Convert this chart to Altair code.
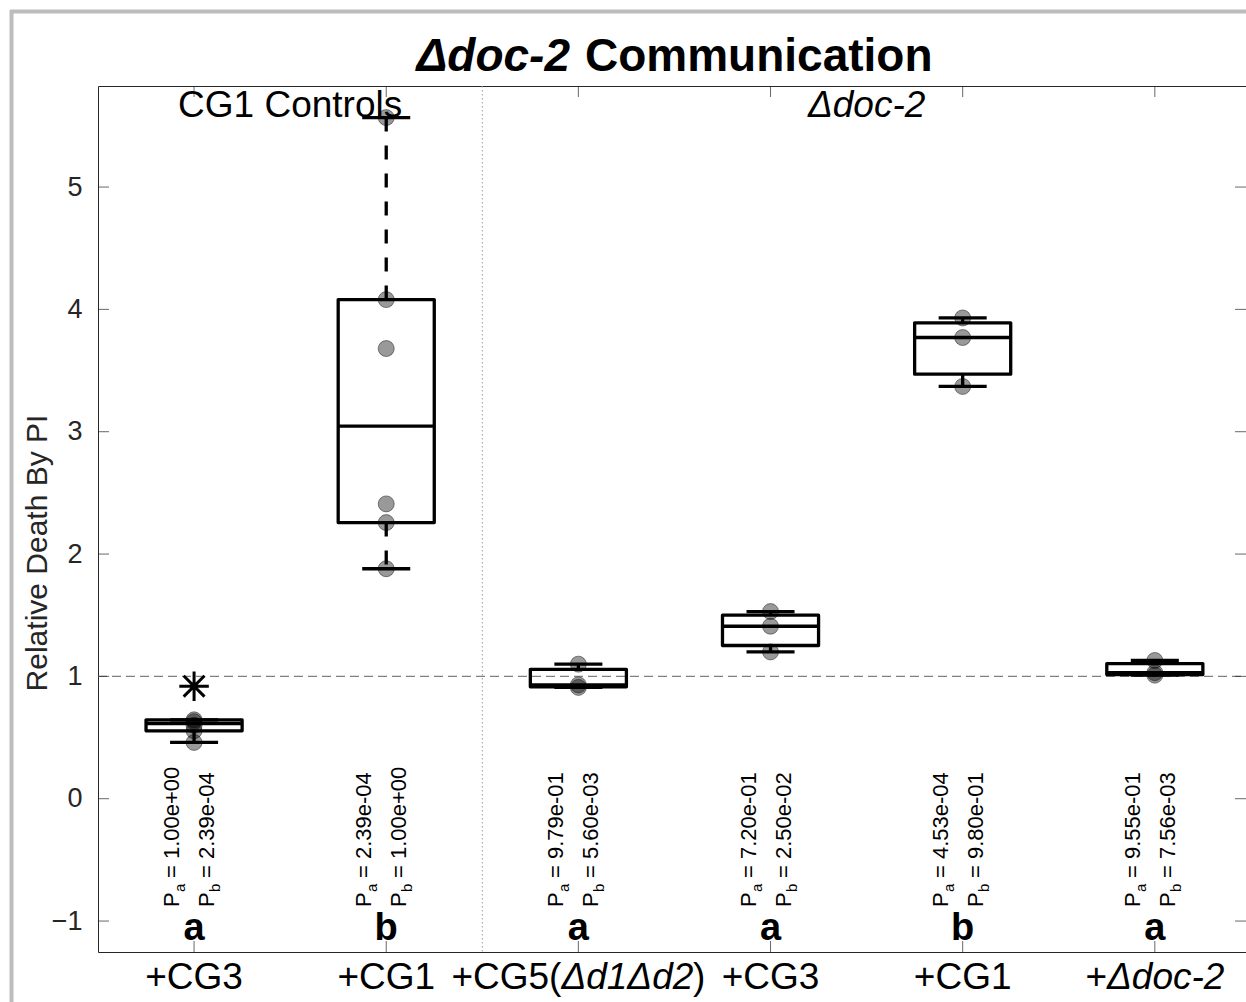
import altair as alt
import pandas as pd
import numpy as np

# ---------------- data ----------------
groups = [1, 2, 3, 4, 5, 6]
values_g1 = [0.46, 0.555, 0.60, 0.63, 0.645, 0.92]
values_g2 = [1.88, 2.257, 2.41, 3.68, 4.08, 5.568]
values_g3 = [0.91, 0.93, 1.10]
values_g4 = [1.20, 1.41, 1.53]
values_g5 = [3.37, 3.77, 3.93]
values_g6 = [1.01, 1.03, 1.13]
group_values = [values_g1, values_g2, values_g3, values_g4, values_g5, values_g6]

p_a = ["1.00e+00", "2.39e-04", "9.79e-01", "7.20e-01", "4.53e-04", "9.55e-01"]
p_b = ["2.39e-04", "1.00e+00", "5.60e-03", "2.50e-02", "9.80e-01", "7.56e-03"]
letters = ["a", "b", "a", "a", "b", "a"]

x_label_parts = [
    [("+CG3", False)],
    [("+CG1", False)],
    [("+CG5(", False), ("Δd1Δd2", True), (")", False)],
    [("+CG3", False)],
    [("+CG1", False)],
    [("+", False), ("Δdoc-2", True)],
]

region_names = ["CG1 Controls", "Δdoc-2"]
region_centers = [1.5, 4.5]
region_italic = [False, True]
divider_at = [2.5]
reference_at = [1.0]
y_ticks = [-1, 0, 1, 2, 3, 4, 5]
title_parts = ["Δdoc-2", "Communication"]
y_title = "Relative Death By PI"

# ---------------- layout ----------------
W, H = 1148, 866
X_MIN, X_MAX = 0.5, 6.4745
Y_MIN, Y_MAX = -1.253, 5.826
PXU = W / (X_MAX - X_MIN)
FONT = "Liberation Sans"


def prctile(sx, p):
    n = len(sx)
    pos = p / 100.0 * n + 0.5
    if pos <= 1:
        return sx[0]
    if pos >= n:
        return sx[-1]
    i = int(np.floor(pos))
    f = pos - i
    return sx[i - 1] + f * (sx[i] - sx[i - 1])


stat_rows, pt_rows, out_rows = [], [], []
for g, vals in zip(groups, group_values):
    sx = sorted(vals)
    q1, med, q3 = prctile(sx, 25), prctile(sx, 50), prctile(sx, 75)
    iqr = q3 - q1
    lo_lim, hi_lim = q1 - 1.5 * iqr, q3 + 1.5 * iqr
    inside = [v for v in sx if lo_lim <= v <= hi_lim]
    stat_rows.append(dict(g=g, q1=q1, med=med, q3=q3, lo=min(inside), hi=max(inside),
                          bl=g - 0.25, br=g + 0.25, cl=g - 0.125, cr=g + 0.125))
    for v in sx:
        if lo_lim <= v <= hi_lim:
            pt_rows.append(dict(g=g, v=v))
        else:
            out_rows.append(dict(g=g, v=v))
stats = pd.DataFrame(stat_rows)
pts = pd.DataFrame(pt_rows)
outs = pd.DataFrame(out_rows)

xs = alt.Scale(domain=[X_MIN, X_MAX], nice=False, zero=False)
ys = alt.Scale(domain=[Y_MIN, Y_MAX], nice=False, zero=False)
yaxis = alt.Axis(values=y_ticks, title=None, grid=False, domain=False, ticks=False,
                 tickSize=0, labelPadding=16, labelFontSize=27, labelFont=FONT,
                 labelColor="#262626", format="d")


def X(f):
    return alt.X(f, type="quantitative", scale=xs, axis=None)


def Y(f):
    return alt.Y(f, type="quantitative", scale=ys, axis=yaxis)


dummy = pd.DataFrame({"k": [0]})
layers = []

# grey figure frame
layers.append(alt.Chart(dummy).mark_rule(color="#bdbdbd", strokeWidth=4).encode(
    x=alt.value(-86.5), y=alt.value(-76), y2=alt.value(H + 60)))
layers.append(alt.Chart(dummy).mark_rule(color="#bdbdbd", strokeWidth=4).encode(
    x=alt.value(-88), x2=alt.value(W + 10), y=alt.value(-74.5)))

# divider and reference line
layers.append(alt.Chart(pd.DataFrame({"d": divider_at})).mark_rule(
    color="#9a9a9a", strokeWidth=1, strokeDash=[1.5, 2.5]).encode(
    x=X("d"), y=alt.value(0), y2=alt.value(H)))
layers.append(alt.Chart(pd.DataFrame({"r": reference_at})).mark_rule(
    color="#808080", strokeWidth=1.2, strokeDash=[9, 5]).encode(
    x=alt.value(0), x2=alt.value(W), y=Y("r")))

LW = 3.3
base = alt.Chart(stats)
# whiskers
layers.append(base.mark_rule(color="black", strokeWidth=LW, strokeDash=[14, 14]).encode(
    x=X("g"), y=Y("q3"), y2="hi"))
layers.append(base.mark_rule(color="black", strokeWidth=LW, strokeDash=[14, 14]).encode(
    x=X("g"), y=Y("q1"), y2="lo"))
# caps
layers.append(base.mark_rule(color="black", strokeWidth=LW).encode(x=X("cl"), x2="cr", y=Y("hi")))
layers.append(base.mark_rule(color="black", strokeWidth=LW).encode(x=X("cl"), x2="cr", y=Y("lo")))
# boxes
layers.append(base.mark_rect(fill="transparent", stroke="black", strokeWidth=LW,
                             strokeJoin="round").encode(x=X("bl"), x2="br", y=Y("q1"), y2="q3"))
# medians
layers.append(base.mark_rule(color="black", strokeWidth=LW).encode(x=X("bl"), x2="br", y=Y("med")))

# points
layers.append(alt.Chart(pts).mark_point(shape="circle", filled=True, size=256, opacity=1,
                                        fill="#000000", fillOpacity=0.4, stroke="#000000",
                                        strokeOpacity=0.55, strokeWidth=0.8).encode(
    x=X("g"), y=Y("v")))
# outliers as asterisks
star = "M-1,0L1,0M0,-1L0,1M-0.707,-0.707L0.707,0.707M-0.707,0.707L0.707,-0.707"
if len(outs):
    layers.append(alt.Chart(outs).mark_point(shape=star, filled=False, size=870, opacity=1,
                                             stroke="black", strokeWidth=3).encode(
        x=X("g"), y=Y("v")))

# inward ticks
ytk = alt.Chart(pd.DataFrame({"t": y_ticks}))
layers.append(ytk.mark_rule(color="#262626", strokeWidth=0.7).encode(
    y=Y("t"), x=alt.value(0), x2=alt.value(11)))
layers.append(ytk.mark_rule(color="#262626", strokeWidth=0.7).encode(
    y=Y("t"), x=alt.value(W - 11), x2=alt.value(W)))
xtk = alt.Chart(pd.DataFrame({"g": groups}))
layers.append(xtk.mark_rule(color="#262626", strokeWidth=0.7).encode(
    x=X("g"), y=alt.value(0), y2=alt.value(11)))
layers.append(xtk.mark_rule(color="#262626", strokeWidth=0.7).encode(
    x=X("g"), y=alt.value(H - 11), y2=alt.value(H)))

# region labels
reg = pd.DataFrame({"x": region_centers, "t": region_names, "it": region_italic})
for it in (False, True):
    sub = reg[reg["it"] == it]
    if len(sub):
        layers.append(alt.Chart(sub).mark_text(font=FONT, fontSize=37, color="black",
                                               fontStyle="italic" if it else "normal",
                                               align="center", baseline="alphabetic").encode(
            x=X("x"), y=alt.value(31), text="t:N"))

# p-value annotations (rotated)
ann = pd.DataFrame({"g": groups, "pa": ["= " + s for s in p_a], "pb": ["= " + s for s in p_b],
                    "P": ["P"] * 6, "sa": ["a"] * 6, "sb": ["b"] * 6, "L": letters})
PY = 821
for field, size, dx, dy in [("P", 22, 0, -15), ("sa", 15, 15, -9), ("pa", 22, 29, -15),
                            ("P", 22, 0, 20), ("sb", 15, 15, 26), ("pb", 22, 29, 20)]:
    layers.append(alt.Chart(ann).mark_text(font=FONT, fontSize=size, color="black", angle=270,
                                           align="left", baseline="alphabetic", dx=dx, dy=dy).encode(
        x=X("g"), y=alt.value(PY), text=f"{field}:N"))
# group letters
layers.append(alt.Chart(ann).mark_text(font=FONT, fontSize=38, fontWeight="bold", color="black",
                                       align="center", baseline="alphabetic").encode(
    x=X("g"), y=alt.value(854), text="L:N"))

# x tick labels (mixed italic)
CW = {'+': 584, 'C': 722, 'G': 778, '1': 556, '2': 556, '3': 556, '5': 556, '(': 333,
      ')': 333, 'Δ': 667, 'd': 556, 'o': 556, 'c': 500, '-': 333}
XFS = 37


def tw(s):
    return sum(CW.get(c, 556) for c in s) / 1000.0 * XFS


lab_rows = []
for g, parts in zip(groups, x_label_parts):
    widths = [tw(t) for t, _ in parts]
    cum = -sum(widths) / 2
    for k, ((t, it), w) in enumerate(zip(parts, widths)):
        if len(parts) == 1:
            lab_rows.append(dict(x=g, t=t, it=it, al="center"))
        elif k == 0:
            lab_rows.append(dict(x=g + (cum + w) / PXU, t=t, it=it, al="right"))
        else:
            lab_rows.append(dict(x=g + cum / PXU, t=t, it=it, al="left"))
        cum += w
labs = pd.DataFrame(lab_rows)
for it in (False, True):
    for al in ("center", "left", "right"):
        sub = labs[(labs["it"] == it) & (labs["al"] == al)]
        if len(sub):
            layers.append(alt.Chart(sub).mark_text(font=FONT, fontSize=XFS, color="black",
                                                   fontStyle="italic" if it else "normal",
                                                   align=al, baseline="alphabetic").encode(
                x=X("x"), y=alt.value(903), text="t:N"))

# title
layers.append(alt.Chart(dummy).mark_text(font=FONT, fontSize=46, fontWeight="bold",
                                         fontStyle="italic", color="black", align="right",
                                         baseline="alphabetic").encode(
    x=alt.value(472), y=alt.value(-15), text=alt.value(title_parts[0])))
layers.append(alt.Chart(dummy).mark_text(font=FONT, fontSize=46, fontWeight="bold",
                                         color="black", align="left",
                                         baseline="alphabetic").encode(
    x=alt.value(487), y=alt.value(-15), text=alt.value(title_parts[1])))

# y-axis title
layers.append(alt.Chart(dummy).mark_text(font=FONT, fontSize=30, color="#262626", angle=270,
                                         align="center", baseline="alphabetic").encode(
    x=alt.value(-51), y=alt.value(467), text=alt.value(y_title)))

chart = alt.layer(*layers).properties(
    width=W, height=H,
    padding={"left": 98, "top": 86, "right": 0, "bottom": 50},
    autosize=alt.AutoSizeParams(type="none"),
    background="white",
).configure_view(stroke="#262626", strokeWidth=1)

chart.save("out.html", embed_options={"renderer": "svg", "actions": False})
